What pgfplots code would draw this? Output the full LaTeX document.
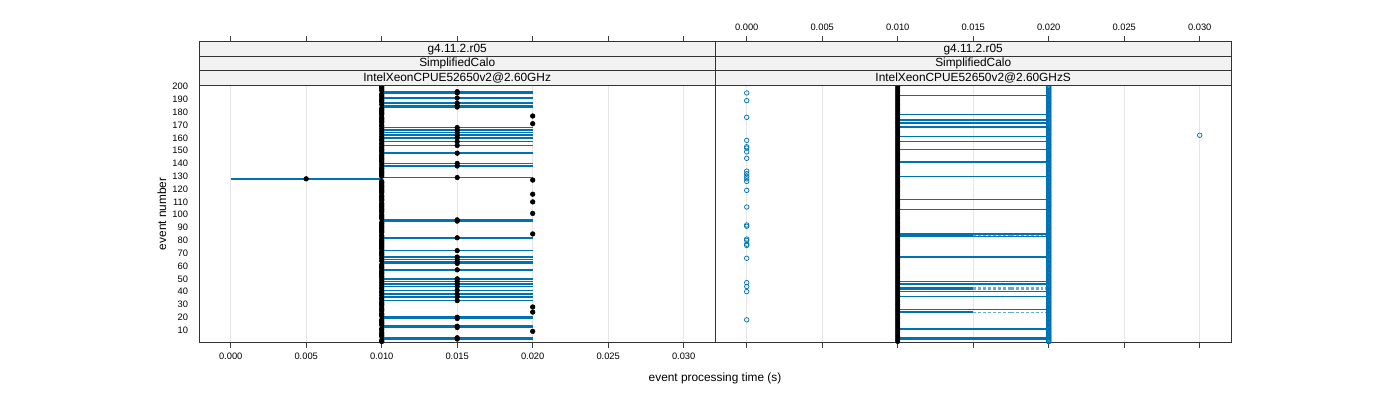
\documentclass[border=0pt]{standalone}
\usepackage{pgfplots}
\pgfplotsset{compat=1.18}
\usepackage{pgfplotstable}
\usepackage{fontspec}
\setmainfont{Liberation Sans}
\definecolor{rblue}{HTML}{0072B2}
\definecolor{stripgray}{HTML}{F2F2F2}
\definecolor{gridgray}{HTML}{E6E6E6}

% left panel: event, mean time, half range
\pgfplotstableread[row sep=\\]{
n x e\\
1 0.01 0\\ 2 0.01 0\\ 3 0.015 0.005\\ 4 0.015 0.005\\ 5 0.01 0\\ 6 0.01 0\\ 7 0.01 0\\ 8 0.01 0\\ 9 0.02 0\\ 10 0.01 0\\
11 0.01 0\\ 12 0.015 0.005\\ 13 0.015 0.005\\ 14 0.01 0\\ 15 0.01 0\\ 16 0.01 0\\ 17 0.01 0\\ 18 0.01 0\\ 19 0.015 0.005\\ 20 0.015 0.005\\
21 0.01 0\\ 22 0.01 0\\ 23 0.01 0\\ 24 0.02 0\\ 25 0.01 0\\ 26 0.01 0\\ 27 0.01 0\\ 28 0.02 0\\ 29 0.01 0\\ 30 0.01 0\\
31 0.01 0\\ 32 0.01 0\\ 33 0.015 0.005\\ 34 0.01 0\\ 35 0.01 0\\ 36 0.015 0.005\\ 37 0.01 0\\ 38 0.015 0.005\\ 39 0.01 0\\ 40 0.01 0\\
41 0.015 0.005\\ 42 0.01 0\\ 43 0.01 0\\ 44 0.015 0.005\\ 45 0.01 0\\ 46 0.015 0.005\\ 47 0.01 0\\ 48 0.015 0.005\\ 49 0.01 0\\ 50 0.015 0.005\\
51 0.01 0\\ 52 0.01 0\\ 53 0.01 0\\ 54 0.01 0\\ 55 0.01 0\\ 56 0.01 0\\ 57 0.015 0.005\\ 58 0.01 0\\ 59 0.01 0\\ 60 0.01 0\\
61 0.01 0\\ 62 0.015 0.005\\ 63 0.015 0.005\\ 64 0.01 0\\ 65 0.015 0.005\\ 66 0.01 0\\ 67 0.015 0.005\\ 68 0.01 0\\ 69 0.01 0\\ 70 0.01 0\\
71 0.01 0\\ 72 0.015 0.005\\ 73 0.01 0\\ 74 0.01 0\\ 75 0.01 0\\ 76 0.01 0\\ 77 0.01 0\\ 78 0.01 0\\ 79 0.01 0\\ 80 0.01 0\\
81 0.01 0\\ 82 0.015 0.005\\ 83 0.01 0\\ 84 0.01 0\\ 85 0.02 0\\ 86 0.01 0\\ 87 0.01 0\\ 88 0.01 0\\ 89 0.01 0\\ 90 0.01 0\\
91 0.01 0\\ 92 0.01 0\\ 93 0.01 0\\ 94 0.01 0\\ 95 0.015 0.005\\ 96 0.015 0.005\\ 97 0.01 0\\ 98 0.01 0\\ 99 0.01 0\\ 100 0.01 0\\
101 0.02 0\\ 102 0.01 0\\ 103 0.01 0\\ 104 0.01 0\\ 105 0.01 0\\ 106 0.01 0\\ 107 0.01 0\\ 108 0.01 0\\ 109 0.01 0\\ 110 0.02 0\\
111 0.01 0\\ 112 0.01 0\\ 113 0.01 0\\ 114 0.01 0\\ 115 0.01 0\\ 116 0.02 0\\ 117 0.01 0\\ 118 0.01 0\\ 119 0.01 0\\ 120 0.01 0\\
121 0.01 0\\ 122 0.01 0\\ 123 0.01 0\\ 124 0.01 0\\ 125 0.01 0\\ 126 0.01 0\\ 127 0.02 0\\ 128 0.005 0.005\\ 129 0.015 0.005\\ 130 0.01 0\\
131 0.01 0\\ 132 0.01 0\\ 133 0.01 0\\ 134 0.01 0\\ 135 0.01 0\\ 136 0.01 0\\ 137 0.01 0\\ 138 0.015 0.005\\ 139 0.01 0\\ 140 0.015 0.005\\
141 0.01 0\\ 142 0.01 0\\ 143 0.01 0\\ 144 0.01 0\\ 145 0.01 0\\ 146 0.01 0\\ 147 0.01 0\\ 148 0.015 0.005\\ 149 0.01 0\\ 150 0.01 0\\
151 0.01 0\\ 152 0.01 0\\ 153 0.01 0\\ 154 0.015 0.005\\ 155 0.01 0\\ 156 0.01 0\\ 157 0.015 0.005\\ 158 0.01 0\\ 159 0.01 0\\ 160 0.015 0.005\\
161 0.01 0\\ 162 0.015 0.005\\ 163 0.01 0\\ 164 0.015 0.005\\ 165 0.01 0\\ 166 0.015 0.005\\ 167 0.01 0\\ 168 0.015 0.005\\ 169 0.01 0\\ 170 0.01 0\\
171 0.02 0\\ 172 0.01 0\\ 173 0.01 0\\ 174 0.01 0\\ 175 0.01 0\\ 176 0.01 0\\ 177 0.02 0\\ 178 0.01 0\\ 179 0.01 0\\ 180 0.01 0\\
181 0.01 0\\ 182 0.01 0\\ 183 0.01 0\\ 184 0.015 0.005\\ 185 0.015 0.005\\ 186 0.01 0\\ 187 0.015 0.005\\ 188 0.01 0\\ 189 0.01 0\\ 190 0.01 0\\
191 0.015 0.005\\ 192 0.01 0\\ 193 0.01 0\\ 194 0.01 0\\ 195 0.015 0.005\\ 196 0.015 0.005\\ 197 0.01 0\\ 198 0.01 0\\ 199 0.01 0\\ 200 0.01 0\\
}\lefttab

% right panel: points at 0.010 and 0.020 for every event
\pgfplotstableread[row sep=\\]{
n a b\\
1 0.01 0.02\\ 2 0.01 0.02\\ 3 0.01 0.02\\ 4 0.01 0.02\\ 5 0.01 0.02\\ 6 0.01 0.02\\ 7 0.01 0.02\\ 8 0.01 0.02\\ 9 0.01 0.02\\ 10 0.01 0.02\\
11 0.01 0.02\\ 12 0.01 0.02\\ 13 0.01 0.02\\ 14 0.01 0.02\\ 15 0.01 0.02\\ 16 0.01 0.02\\ 17 0.01 0.02\\ 18 0.01 0.02\\ 19 0.01 0.02\\ 20 0.01 0.02\\
21 0.01 0.02\\ 22 0.01 0.02\\ 23 0.01 0.02\\ 24 0.01 0.02\\ 25 0.01 0.02\\ 26 0.01 0.02\\ 27 0.01 0.02\\ 28 0.01 0.02\\ 29 0.01 0.02\\ 30 0.01 0.02\\
31 0.01 0.02\\ 32 0.01 0.02\\ 33 0.01 0.02\\ 34 0.01 0.02\\ 35 0.01 0.02\\ 36 0.01 0.02\\ 37 0.01 0.02\\ 38 0.01 0.02\\ 39 0.01 0.02\\ 40 0.01 0.02\\
41 0.01 0.02\\ 42 0.01 0.02\\ 43 0.01 0.02\\ 44 0.01 0.02\\ 45 0.01 0.02\\ 46 0.01 0.02\\ 47 0.01 0.02\\ 48 0.01 0.02\\ 49 0.01 0.02\\ 50 0.01 0.02\\
51 0.01 0.02\\ 52 0.01 0.02\\ 53 0.01 0.02\\ 54 0.01 0.02\\ 55 0.01 0.02\\ 56 0.01 0.02\\ 57 0.01 0.02\\ 58 0.01 0.02\\ 59 0.01 0.02\\ 60 0.01 0.02\\
61 0.01 0.02\\ 62 0.01 0.02\\ 63 0.01 0.02\\ 64 0.01 0.02\\ 65 0.01 0.02\\ 66 0.01 0.02\\ 67 0.01 0.02\\ 68 0.01 0.02\\ 69 0.01 0.02\\ 70 0.01 0.02\\
71 0.01 0.02\\ 72 0.01 0.02\\ 73 0.01 0.02\\ 74 0.01 0.02\\ 75 0.01 0.02\\ 76 0.01 0.02\\ 77 0.01 0.02\\ 78 0.01 0.02\\ 79 0.01 0.02\\ 80 0.01 0.02\\
81 0.01 0.02\\ 82 0.01 0.02\\ 83 0.01 0.02\\ 84 0.01 0.02\\ 85 0.01 0.02\\ 86 0.01 0.02\\ 87 0.01 0.02\\ 88 0.01 0.02\\ 89 0.01 0.02\\ 90 0.01 0.02\\
91 0.01 0.02\\ 92 0.01 0.02\\ 93 0.01 0.02\\ 94 0.01 0.02\\ 95 0.01 0.02\\ 96 0.01 0.02\\ 97 0.01 0.02\\ 98 0.01 0.02\\ 99 0.01 0.02\\ 100 0.01 0.02\\
101 0.01 0.02\\ 102 0.01 0.02\\ 103 0.01 0.02\\ 104 0.01 0.02\\ 105 0.01 0.02\\ 106 0.01 0.02\\ 107 0.01 0.02\\ 108 0.01 0.02\\ 109 0.01 0.02\\ 110 0.01 0.02\\
111 0.01 0.02\\ 112 0.01 0.02\\ 113 0.01 0.02\\ 114 0.01 0.02\\ 115 0.01 0.02\\ 116 0.01 0.02\\ 117 0.01 0.02\\ 118 0.01 0.02\\ 119 0.01 0.02\\ 120 0.01 0.02\\
121 0.01 0.02\\ 122 0.01 0.02\\ 123 0.01 0.02\\ 124 0.01 0.02\\ 125 0.01 0.02\\ 126 0.01 0.02\\ 127 0.01 0.02\\ 128 0.01 0.02\\ 129 0.01 0.02\\ 130 0.01 0.02\\
131 0.01 0.02\\ 132 0.01 0.02\\ 133 0.01 0.02\\ 134 0.01 0.02\\ 135 0.01 0.02\\ 136 0.01 0.02\\ 137 0.01 0.02\\ 138 0.01 0.02\\ 139 0.01 0.02\\ 140 0.01 0.02\\
141 0.01 0.02\\ 142 0.01 0.02\\ 143 0.01 0.02\\ 144 0.01 0.02\\ 145 0.01 0.02\\ 146 0.01 0.02\\ 147 0.01 0.02\\ 148 0.01 0.02\\ 149 0.01 0.02\\ 150 0.01 0.02\\
151 0.01 0.02\\ 152 0.01 0.02\\ 153 0.01 0.02\\ 154 0.01 0.02\\ 155 0.01 0.02\\ 156 0.01 0.02\\ 157 0.01 0.02\\ 158 0.01 0.02\\ 159 0.01 0.02\\ 160 0.01 0.02\\
161 0.01 0.02\\ 162 0.01 0.02\\ 163 0.01 0.02\\ 164 0.01 0.02\\ 165 0.01 0.02\\ 166 0.01 0.02\\ 167 0.01 0.02\\ 168 0.01 0.02\\ 169 0.01 0.02\\ 170 0.01 0.02\\
171 0.01 0.02\\ 172 0.01 0.02\\ 173 0.01 0.02\\ 174 0.01 0.02\\ 175 0.01 0.02\\ 176 0.01 0.02\\ 177 0.01 0.02\\ 178 0.01 0.02\\ 179 0.01 0.02\\ 180 0.01 0.02\\
181 0.01 0.02\\ 182 0.01 0.02\\ 183 0.01 0.02\\ 184 0.01 0.02\\ 185 0.01 0.02\\ 186 0.01 0.02\\ 187 0.01 0.02\\ 188 0.01 0.02\\ 189 0.01 0.02\\ 190 0.01 0.02\\
191 0.01 0.02\\ 192 0.01 0.02\\ 193 0.01 0.02\\ 194 0.01 0.02\\ 195 0.01 0.02\\ 196 0.01 0.02\\ 197 0.01 0.02\\ 198 0.01 0.02\\ 199 0.01 0.02\\ 200 0.01 0.02\\
}\righttab

% right panel: full range segments
\pgfplotstableread[row sep=\\]{
n x e\\
193 0.015 0.005\\ 178 0.015 0.005\\ 174 0.015 0.005\\ 172 0.015 0.005\\ 171 0.015 0.005\\ 169 0.015 0.005\\ 168 0.015 0.005\\
161 0.015 0.005\\ 157 0.015 0.005\\ 151 0.015 0.005\\ 141 0.015 0.005\\ 130 0.015 0.005\\ 112 0.015 0.005\\ 104 0.015 0.005\\
85 0.015 0.005\\ 83 0.015 0.005\\ 67 0.015 0.005\\ 48 0.015 0.005\\ 46 0.015 0.005\\ 40 0.015 0.005\\ 36 0.015 0.005\\
26 0.015 0.005\\ 11 0.015 0.005\\ 4 0.015 0.005\\ 3 0.015 0.005\\
}\rsegtab

% right panel: half solid / half dashed segments
\pgfplotstableread[row sep=\\]{
n xs es xd ed\\
84 0.0125 0.0025 0.0175 0.0025\\ 43 0.0125 0.0025 0.0175 0.0025\\
42 0.0125 0.0025 0.0175 0.0025\\ 24 0.0125 0.0025 0.0175 0.0025\\
}\rdashtab

\pgfplotsset{
  panel/.style={
    anchor=south west, scale only axis,
    width=387.3pt,
    xmin=-0.0021, xmax=0.0321,
    xtick={0,0.005,0.01,0.015,0.02,0.025,0.03},
    scaled x ticks=false,
    tick align=outside, major tick length=4.5pt,
    tick style={black!75, line width=0.6pt},
    tick label style={font=\fontsize{7}{8}\selectfont},
    /pgf/number format/assume math mode=true,
  },
}

\begin{document}
\begin{tikzpicture}[x=1pt,y=1pt]
\useasboundingbox (0,0) rectangle (1050,300);

% tick-only outer axes (ticks above the strips)
\begin{axis}[panel, at={(149.25pt,43.125pt)}, height=225.6pt,
  ymin=0, ymax=1, axis x line*=top, axis y line=none,
  x axis line style={black!80, line width=0.6pt},
  xticklabels={}]
\end{axis}
\begin{axis}[panel, at={(536.25pt,43.125pt)}, height=225.6pt,
  ymin=0, ymax=1, axis x line*=top, axis y line=none,
  x axis line style={black!80, line width=0.6pt},
  xticklabels={0.000,0.005,0.010,0.015,0.020,0.025,0.030}]
\end{axis}

% left panel
\begin{axis}[panel, at={(149.25pt,43.125pt)}, height=193.125pt,
  ymin=0.3, ymax=201.2,
  xtick pos=left,
  xticklabels={0.000,0.005,0.010,0.015,0.020,0.025,0.030},
  ytick={10,20,...,200}, ytick pos=left,
  ytick style={draw=none},
  yticklabel style={inner sep=0pt, xshift=-3.5pt},
  xmajorgrids, grid style={gridgray, line width=0.6pt},
  axis line style={black!80, line width=0.6pt},
  ylabel={event number},
  ylabel style={font=\fontsize{8.9}{10}\selectfont, at={(axis description cs:-0.0717,0.5)}, anchor=center}]
\addplot[draw=none, mark=none, forget plot,
  error bars/.cd, x dir=both, x explicit, error mark=none,
  error bar style={draw=rblue, line width=1.15pt, solid}]
  table[x=x, y=n, x error=e] \lefttab;
\addplot[only marks, mark=*, mark size=1.75pt, black] table[x=x, y=n] \lefttab;
\end{axis}

% right panel
\begin{axis}[panel, at={(536.25pt,43.125pt)}, height=193.125pt,
  ymin=0.3, ymax=201.2,
  xtick pos=left, xticklabels={},
  ytick=\empty,
  xmajorgrids, grid style={gridgray, line width=0.6pt},
  axis line style={black!80, line width=0.6pt}]
\addplot[draw=none, mark=none, forget plot,
  error bars/.cd, x dir=both, x explicit, error mark=none,
  error bar style={draw=rblue, line width=1.1pt, solid}]
  table[x=x, y=n, x error=e] \rsegtab;
\addplot[draw=none, mark=none, forget plot,
  error bars/.cd, x dir=both, x explicit, error mark=none,
  error bar style={draw=rblue, line width=1.1pt, solid}]
  table[x=xs, y=n, x error=es] \rdashtab;
\addplot[draw=none, mark=none, forget plot,
  error bars/.cd, x dir=both, x explicit, error mark=none,
  error bar style={draw=rblue!60, line width=0.9pt, dash pattern=on 2.2pt off 1.5pt}]
  table[x=xd, y=n, x error=ed] \rdashtab;
\addplot[only marks, mark=*, mark size=1.6pt, black] table[x=a, y=n] \righttab;
\addplot[only marks, mark=o, mark size=1.7pt, rblue, mark options={line width=0.75pt}] table[x=b, y=n] \righttab;
\addplot[only marks, mark=o, mark size=1.7pt, rblue, mark options={line width=0.55pt}] coordinates {
(0,195) (0,189) (0,176) (0,158) (0,153) (0,152) (0,149) (0,144) (0,134) (0,132) (0,130) (0,128) (0,126)
(0,119) (0,106) (0,92) (0,91) (0,81) (0,80) (0,77) (0,76) (0,66) (0,47) (0,44) (0,40) (0,18) (0.03,162)};
\end{axis}

% strips
\foreach \xl in {149.25,536.25}{
  \filldraw[fill=stripgray, draw=black!80, line width=0.6pt] (\xl,236.25) rectangle ++(387.3,10.82);
  \filldraw[fill=stripgray, draw=black!80, line width=0.6pt] (\xl,247.07) rectangle ++(387.3,10.82);
  \filldraw[fill=stripgray, draw=black!80, line width=0.6pt] (\xl,257.89) rectangle ++(387.3,10.82);
}
\tikzset{striptext/.style={font=\fontsize{8.9}{10}\selectfont, anchor=center, inner sep=0pt, text height=0.72em, text depth=0.2em}}
\node[striptext] at (342.9,263.3) {g4.11.2.r05};
\node[striptext] at (342.9,252.48) {SimplifiedCalo};
\node[striptext] at (342.9,241.66) {IntelXeonCPUE52650v2@2.60GHz};
\node[striptext] at (729.9,263.3) {g4.11.2.r05};
\node[striptext] at (729.9,252.48) {SimplifiedCalo};
\node[striptext] at (729.9,241.66) {IntelXeonCPUE52650v2@2.60GHzS};

\node[font=\fontsize{8.9}{10}\selectfont, anchor=center] at (536.25,16.5) {event processing time (s)};
\end{tikzpicture}
\end{document}
